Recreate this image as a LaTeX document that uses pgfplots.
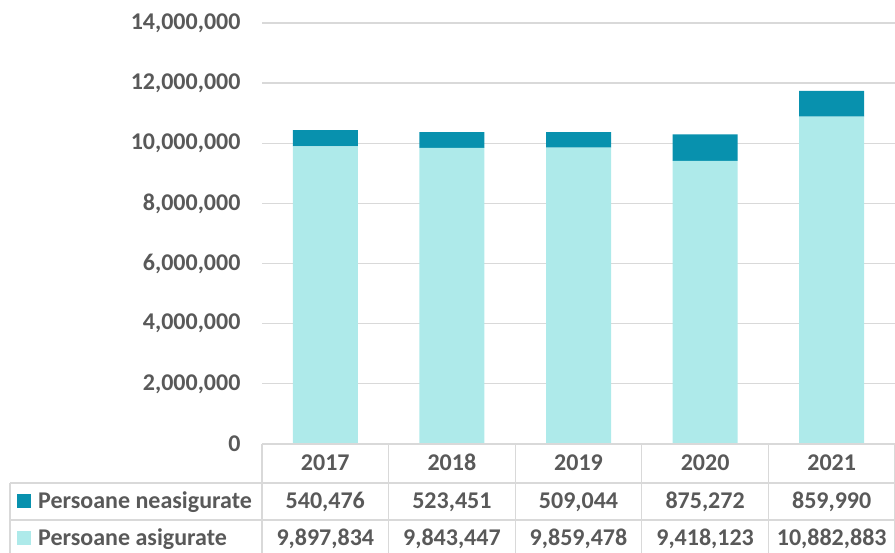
\documentclass[border=0pt]{standalone}
\usepackage{pgfplots}
\pgfplotsset{compat=1.18}
\usepackage{fontspec}
\setmainfont{Carlito}
\definecolor{dark}{HTML}{0891AE}
\definecolor{light}{HTML}{AEEAEA}
\definecolor{txt}{HTML}{595959}
\definecolor{grd}{HTML}{D9D9D9}
\begin{document}
\begin{tikzpicture}[x=1pt,y=1pt]
\begin{axis}[
  at={(262pt,109pt)}, anchor=south west,
  scale only axis, width=633pt, height=421pt,
  ybar stacked, bar width=65pt,
  xmin=-0.5, xmax=4.5, ymin=0, ymax=14000000,
  xtick=\empty,
  ytick={0,2000000,4000000,6000000,8000000,10000000,12000000,14000000},
  scaled y ticks=false,
  /pgf/number format/fixed,
  /pgf/number format/1000 sep={,},
  /pgf/number format/assume math mode=true,
  yticklabel style={font=\fontsize{24}{26}\selectfont\bfseries, text=txt, xshift=-18pt},
  ymajorgrids, grid style={grd, line width=1.3pt},
  major tick length=0pt,
  axis line style={draw=none},
  clip=false,
]
\addplot[fill=light, draw=none] coordinates {(0,9897834) (1,9843447) (2,9859478) (3,9418123) (4,10882883)};
\addplot[fill=dark, draw=none] coordinates {(0,540476) (1,523451) (2,509044) (3,875272) (4,859990)};
\end{axis}
% data table
\begin{scope}[grd, line width=1.3pt]
\draw (262,109) -- (900,109);
\draw (10,70) -- (900,70);
\draw (10,33) -- (900,33);
\draw (10,70) -- (10,-5);
\foreach \i in {0,...,5} { \draw (262+\i*126.6,109) -- (262+\i*126.6,-5); }
\end{scope}
\begin{scope}[font=\fontsize{24}{26}\selectfont\bfseries, text=txt, every node/.style={anchor=base, inner sep=0pt}]
\foreach \y [count=\i from 0] in {2017,2018,2019,2020,2021} {
  \node at (325.3+\i*126.6,82) {\y};
}
\node at (325.3+0*126.6,44) {540,476};
\node at (325.3+1*126.6,44) {523,451};
\node at (325.3+2*126.6,44) {509,044};
\node at (325.3+3*126.6,44) {875,272};
\node at (325.3+4*126.6,44) {859,990};
\node at (325.3+0*126.6,7) {9,897,834};
\node at (325.3+1*126.6,7) {9,843,447};
\node at (325.3+2*126.6,7) {9,859,478};
\node at (325.3+3*126.6,7) {9,418,123};
\node at (325.3+4*126.6,7) {10,882,883};
\fill[dark] (17,45) rectangle (31,59);
\fill[light] (17,8) rectangle (31,22);
\node[anchor=base west] at (38,44) {Persoane neasigurate};
\node[anchor=base west] at (38,7) {Persoane asigurate};
\end{scope}
\pgfresetboundingbox
\path[use as bounding box] (0,0) rectangle (895,553);
\end{tikzpicture}
\end{document}
